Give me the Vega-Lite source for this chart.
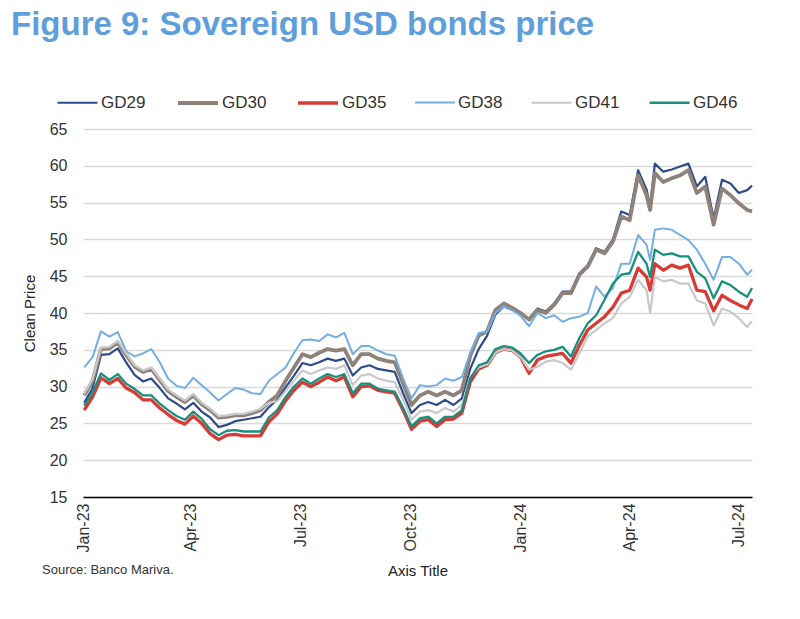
{
  "$schema": "https://vega.github.io/schema/vega-lite/v6.json",
  "width": 669,
  "height": 368,
  "autosize": "none",
  "padding": {"left": 83, "top": 129, "right": 48, "bottom": 122},
  "background": "white",
  "config": {"font": "Liberation Sans", "view": {"stroke": null}},
  "title": {
    "text": "Figure 9: Sovereign USD bonds price",
    "fontSize": 33,
    "fontWeight": "bold",
    "color": "#5E9FDB",
    "anchor": "start",
    "frame": "group",
    "dx": -72,
    "offset": 39
  },
  "layer": [
    {
      "data": {
        "values": [
          {"d": "2023-01-02", "GD29": 27.8, "GD30": 28.8, "GD35": 26.8, "GD38": 32.6, "GD41": 29.0, "GD46": 27.4},
          {"d": "2023-01-09", "GD29": 29.8, "GD30": 30.8, "GD35": 28.6, "GD38": 34.0, "GD41": 31.0, "GD46": 29.2},
          {"d": "2023-01-16", "GD29": 34.3, "GD30": 35.1, "GD35": 31.2, "GD38": 37.5, "GD41": 35.3, "GD46": 31.8},
          {"d": "2023-01-23", "GD29": 34.4, "GD30": 35.2, "GD35": 30.4, "GD38": 36.8, "GD41": 35.4, "GD46": 30.9},
          {"d": "2023-01-30", "GD29": 35.2, "GD30": 36.0, "GD35": 31.1, "GD38": 37.4, "GD41": 36.2, "GD46": 31.7},
          {"d": "2023-02-06", "GD29": 33.3, "GD30": 34.3, "GD35": 29.8, "GD38": 34.8, "GD41": 34.5, "GD46": 30.4},
          {"d": "2023-02-13", "GD29": 31.6, "GD30": 32.7, "GD35": 29.2, "GD38": 34.1, "GD41": 32.9, "GD46": 29.7},
          {"d": "2023-02-20", "GD29": 30.7, "GD30": 32.0, "GD35": 28.2, "GD38": 34.5, "GD41": 32.2, "GD46": 28.8},
          {"d": "2023-02-27", "GD29": 31.1, "GD30": 32.4, "GD35": 28.2, "GD38": 35.1, "GD41": 32.6, "GD46": 28.8},
          {"d": "2023-03-06", "GD29": 29.8, "GD30": 30.9, "GD35": 27.1, "GD38": 33.3, "GD41": 31.1, "GD46": 27.7},
          {"d": "2023-03-13", "GD29": 28.4, "GD30": 29.4, "GD35": 26.2, "GD38": 31.1, "GD41": 29.6, "GD46": 26.8},
          {"d": "2023-03-20", "GD29": 27.7, "GD30": 28.6, "GD35": 25.4, "GD38": 30.1, "GD41": 28.8, "GD46": 26.0},
          {"d": "2023-03-27", "GD29": 26.9, "GD30": 27.9, "GD35": 24.9, "GD38": 29.8, "GD41": 28.1, "GD46": 25.5},
          {"d": "2023-04-03", "GD29": 27.8, "GD30": 28.8, "GD35": 26.0, "GD38": 31.2, "GD41": 29.0, "GD46": 26.6},
          {"d": "2023-04-10", "GD29": 26.6, "GD30": 27.6, "GD35": 25.0, "GD38": 30.2, "GD41": 27.8, "GD46": 25.6},
          {"d": "2023-04-17", "GD29": 25.8, "GD30": 26.8, "GD35": 23.6, "GD38": 29.2, "GD41": 27.0, "GD46": 24.2},
          {"d": "2023-04-24", "GD29": 24.5, "GD30": 25.8, "GD35": 22.8, "GD38": 28.1, "GD41": 26.0, "GD46": 23.4},
          {"d": "2023-05-01", "GD29": 24.8, "GD30": 25.9, "GD35": 23.4, "GD38": 29.0, "GD41": 26.1, "GD46": 24.0},
          {"d": "2023-05-08", "GD29": 25.3, "GD30": 26.1, "GD35": 23.5, "GD38": 29.8, "GD41": 26.3, "GD46": 24.1},
          {"d": "2023-05-15", "GD29": 25.5, "GD30": 26.1, "GD35": 23.3, "GD38": 29.6, "GD41": 26.3, "GD46": 23.9},
          {"d": "2023-05-22", "GD29": 25.7, "GD30": 26.4, "GD35": 23.3, "GD38": 29.1, "GD41": 26.6, "GD46": 23.9},
          {"d": "2023-05-29", "GD29": 25.9, "GD30": 26.8, "GD35": 23.3, "GD38": 29.0, "GD41": 27.0, "GD46": 23.9},
          {"d": "2023-06-05", "GD29": 27.2, "GD30": 27.9, "GD35": 25.2, "GD38": 30.8, "GD41": 27.8, "GD46": 25.8},
          {"d": "2023-06-12", "GD29": 28.2, "GD30": 28.8, "GD35": 26.3, "GD38": 31.7, "GD41": 28.0, "GD46": 26.8},
          {"d": "2023-06-19", "GD29": 29.9, "GD30": 30.8, "GD35": 28.1, "GD38": 32.6, "GD41": 29.4, "GD46": 28.6},
          {"d": "2023-06-26", "GD29": 31.5, "GD30": 32.6, "GD35": 29.5, "GD38": 34.6, "GD41": 30.8, "GD46": 30.0},
          {"d": "2023-07-03", "GD29": 33.2, "GD30": 34.4, "GD35": 30.6, "GD38": 36.3, "GD41": 32.2, "GD46": 31.1},
          {"d": "2023-07-10", "GD29": 32.9, "GD30": 34.0, "GD35": 30.0, "GD38": 36.4, "GD41": 31.7, "GD46": 30.4},
          {"d": "2023-07-17", "GD29": 33.3, "GD30": 34.6, "GD35": 30.6, "GD38": 36.2, "GD41": 32.2, "GD46": 31.1},
          {"d": "2023-07-24", "GD29": 33.8, "GD30": 35.1, "GD35": 31.3, "GD38": 37.1, "GD41": 32.6, "GD46": 31.7},
          {"d": "2023-07-31", "GD29": 33.5, "GD30": 34.9, "GD35": 30.8, "GD38": 36.7, "GD41": 32.4, "GD46": 31.3},
          {"d": "2023-08-07", "GD29": 33.8, "GD30": 35.1, "GD35": 31.3, "GD38": 37.3, "GD41": 32.9, "GD46": 31.7},
          {"d": "2023-08-14", "GD29": 31.5, "GD30": 32.9, "GD35": 28.6, "GD38": 34.4, "GD41": 30.2, "GD46": 29.1},
          {"d": "2023-08-21", "GD29": 32.6, "GD30": 34.4, "GD35": 30.0, "GD38": 35.5, "GD41": 31.5, "GD46": 30.4},
          {"d": "2023-08-28", "GD29": 32.9, "GD30": 34.4, "GD35": 30.1, "GD38": 35.5, "GD41": 31.7, "GD46": 30.4},
          {"d": "2023-09-04", "GD29": 32.4, "GD30": 33.8, "GD35": 29.5, "GD38": 34.9, "GD41": 31.1, "GD46": 29.7},
          {"d": "2023-09-11", "GD29": 32.2, "GD30": 33.5, "GD35": 29.3, "GD38": 34.4, "GD41": 30.8, "GD46": 29.5},
          {"d": "2023-09-18", "GD29": 32.0, "GD30": 33.3, "GD35": 29.1, "GD38": 34.2, "GD41": 30.6, "GD46": 29.3},
          {"d": "2023-09-25", "GD29": 29.1, "GD30": 30.4, "GD35": 26.8, "GD38": 31.1, "GD41": 28.2, "GD46": 27.1},
          {"d": "2023-10-02", "GD29": 26.4, "GD30": 27.5, "GD35": 24.2, "GD38": 28.4, "GD41": 25.5, "GD46": 24.6},
          {"d": "2023-10-09", "GD29": 27.5, "GD30": 28.8, "GD35": 25.3, "GD38": 30.2, "GD41": 26.6, "GD46": 25.7},
          {"d": "2023-10-16", "GD29": 27.9, "GD30": 29.3, "GD35": 25.5, "GD38": 30.0, "GD41": 26.8, "GD46": 25.9},
          {"d": "2023-10-23", "GD29": 27.5, "GD30": 28.8, "GD35": 24.6, "GD38": 30.2, "GD41": 26.4, "GD46": 25.0},
          {"d": "2023-10-30", "GD29": 28.2, "GD30": 29.3, "GD35": 25.5, "GD38": 31.1, "GD41": 27.1, "GD46": 25.9},
          {"d": "2023-11-06", "GD29": 27.5, "GD30": 28.8, "GD35": 25.6, "GD38": 30.8, "GD41": 26.6, "GD46": 25.9},
          {"d": "2023-11-13", "GD29": 28.4, "GD30": 29.5, "GD35": 26.4, "GD38": 31.3, "GD41": 27.5, "GD46": 26.8},
          {"d": "2023-11-20", "GD29": 32.4, "GD30": 34.2, "GD35": 30.6, "GD38": 34.6, "GD41": 31.3, "GD46": 31.1},
          {"d": "2023-11-27", "GD29": 35.1, "GD30": 36.9, "GD35": 32.4, "GD38": 37.3, "GD41": 32.6, "GD46": 32.9},
          {"d": "2023-12-04", "GD29": 36.9, "GD30": 37.5, "GD35": 32.9, "GD38": 37.5, "GD41": 33.0, "GD46": 33.3},
          {"d": "2023-12-11", "GD29": 39.8, "GD30": 40.4, "GD35": 34.6, "GD38": 40.0, "GD41": 34.6, "GD46": 35.1},
          {"d": "2023-12-18", "GD29": 40.9, "GD30": 41.3, "GD35": 35.1, "GD38": 40.9, "GD41": 35.1, "GD46": 35.5},
          {"d": "2023-12-25", "GD29": 40.4, "GD30": 40.7, "GD35": 34.9, "GD38": 40.4, "GD41": 34.9, "GD46": 35.3},
          {"d": "2024-01-01", "GD29": 40.0, "GD30": 40.0, "GD35": 34.0, "GD38": 39.6, "GD41": 34.0, "GD46": 34.5},
          {"d": "2024-01-08", "GD29": 39.2, "GD30": 39.1, "GD35": 31.8, "GD38": 38.2, "GD41": 32.3, "GD46": 33.2},
          {"d": "2024-01-15", "GD29": 40.6, "GD30": 40.4, "GD35": 33.6, "GD38": 40.0, "GD41": 32.7, "GD46": 34.3},
          {"d": "2024-01-22", "GD29": 40.2, "GD30": 40.0, "GD35": 34.1, "GD38": 39.3, "GD41": 33.4, "GD46": 34.8},
          {"d": "2024-01-29", "GD29": 41.3, "GD30": 41.1, "GD35": 34.3, "GD38": 39.7, "GD41": 33.6, "GD46": 35.0},
          {"d": "2024-02-05", "GD29": 42.9, "GD30": 42.7, "GD35": 34.5, "GD38": 38.8, "GD41": 33.2, "GD46": 35.4},
          {"d": "2024-02-12", "GD29": 42.9, "GD30": 42.7, "GD35": 33.2, "GD38": 39.3, "GD41": 32.3, "GD46": 34.1},
          {"d": "2024-02-19", "GD29": 45.4, "GD30": 45.2, "GD35": 35.6, "GD38": 39.5, "GD41": 34.5, "GD46": 36.6},
          {"d": "2024-02-26", "GD29": 46.5, "GD30": 46.3, "GD35": 37.7, "GD38": 40.0, "GD41": 36.8, "GD46": 38.6},
          {"d": "2024-03-04", "GD29": 48.8, "GD30": 48.6, "GD35": 38.6, "GD38": 43.6, "GD41": 37.7, "GD46": 39.7},
          {"d": "2024-03-11", "GD29": 48.3, "GD30": 48.1, "GD35": 39.5, "GD38": 42.2, "GD41": 38.6, "GD46": 41.8},
          {"d": "2024-03-18", "GD29": 50.0, "GD30": 49.7, "GD35": 40.8, "GD38": 43.4, "GD41": 39.3, "GD46": 44.0},
          {"d": "2024-03-25", "GD29": 53.8, "GD30": 53.1, "GD35": 42.7, "GD38": 46.7, "GD41": 41.3, "GD46": 45.2},
          {"d": "2024-04-01", "GD29": 53.3, "GD30": 52.6, "GD35": 43.1, "GD38": 46.7, "GD41": 42.2, "GD46": 45.4},
          {"d": "2024-04-08", "GD29": 59.4, "GD30": 58.7, "GD35": 46.1, "GD38": 50.6, "GD41": 44.5, "GD46": 48.3},
          {"d": "2024-04-15", "GD29": 56.8, "GD30": 56.0, "GD35": 44.9, "GD38": 49.3, "GD41": 43.1, "GD46": 46.7},
          {"d": "2024-04-18", "GD29": 54.5, "GD30": 54.0, "GD35": 43.1, "GD38": 47.2, "GD41": 40.0, "GD46": 44.9},
          {"d": "2024-04-22", "GD29": 60.3, "GD30": 59.0, "GD35": 46.7, "GD38": 51.3, "GD41": 44.9, "GD46": 48.6},
          {"d": "2024-04-29", "GD29": 59.2, "GD30": 57.8, "GD35": 45.8, "GD38": 51.5, "GD41": 44.3, "GD46": 47.9},
          {"d": "2024-05-06", "GD29": 59.5, "GD30": 58.3, "GD35": 46.5, "GD38": 51.3, "GD41": 44.5, "GD46": 48.1},
          {"d": "2024-05-13", "GD29": 59.9, "GD30": 58.7, "GD35": 46.1, "GD38": 50.6, "GD41": 44.0, "GD46": 47.7},
          {"d": "2024-05-20", "GD29": 60.3, "GD30": 59.4, "GD35": 46.5, "GD38": 49.9, "GD41": 44.0, "GD46": 47.7},
          {"d": "2024-05-27", "GD29": 57.2, "GD30": 56.3, "GD35": 43.1, "GD38": 48.6, "GD41": 41.7, "GD46": 45.6},
          {"d": "2024-06-03", "GD29": 58.5, "GD30": 57.2, "GD35": 42.9, "GD38": 46.7, "GD41": 41.3, "GD46": 44.7},
          {"d": "2024-06-10", "GD29": 52.8, "GD30": 52.0, "GD35": 40.3, "GD38": 44.5, "GD41": 38.3, "GD46": 42.0},
          {"d": "2024-06-17", "GD29": 58.1, "GD30": 56.9, "GD35": 42.4, "GD38": 47.6, "GD41": 40.6, "GD46": 44.3},
          {"d": "2024-06-24", "GD29": 57.6, "GD30": 56.0, "GD35": 41.7, "GD38": 47.6, "GD41": 40.2, "GD46": 43.8},
          {"d": "2024-07-01", "GD29": 56.3, "GD30": 54.9, "GD35": 41.1, "GD38": 46.7, "GD41": 39.3, "GD46": 42.9},
          {"d": "2024-07-08", "GD29": 56.7, "GD30": 54.0, "GD35": 40.6, "GD38": 45.2, "GD41": 38.1, "GD46": 42.2},
          {"d": "2024-07-12", "GD29": 57.3, "GD30": 53.8, "GD35": 41.9, "GD38": 45.9, "GD41": 38.9, "GD46": 43.4}
        ]
      },
      "transform": [
        {"fold": ["GD29", "GD30", "GD35", "GD38", "GD41", "GD46"], "as": ["s", "v"]}
      ],
      "mark": {"type": "line", "strokeJoin": "round"},
      "encoding": {
        "x": {
          "field": "d",
          "type": "temporal",
          "scale": {
            "type": "utc",
            "domain": [
              {"year": 2023, "month": 1, "date": 1, "utc": true},
              {"year": 2024, "month": 7, "date": 12, "utc": true}
            ]
          },
          "axis": {
            "values": [
              {"year": 2023, "month": 1, "date": 1, "utc": true},
              {"year": 2023, "month": 4, "date": 1, "utc": true},
              {"year": 2023, "month": 7, "date": 1, "utc": true},
              {"year": 2023, "month": 10, "date": 1, "utc": true},
              {"year": 2024, "month": 1, "date": 1, "utc": true},
              {"year": 2024, "month": 4, "date": 1, "utc": true},
              {"year": 2024, "month": 7, "date": 1, "utc": true}
            ],
            "format": "%b-%y",
            "labelAngle": -90,
            "labelFontSize": 16,
            "labelColor": "#333333",
            "labelPadding": 6,
            "labelFlush": false,
            "labelOverlap": false,
            "ticks": false,
            "grid": false,
            "domainColor": "#000000",
            "domainWidth": 1.5,
            "title": "Axis Title",
            "titleFontSize": 15,
            "titleFontWeight": "normal",
            "titleColor": "#222222",
            "titlePadding": 12
          }
        },
        "y": {
          "field": "v",
          "type": "quantitative",
          "scale": {"domain": [15, 65], "nice": false, "zero": false},
          "axis": {
            "values": [15, 20, 25, 30, 35, 40, 45, 50, 55, 60, 65],
            "grid": true,
            "gridColor": "#d9d9d9",
            "gridWidth": 1.3,
            "domain": false,
            "ticks": false,
            "labelFontSize": 16,
            "labelColor": "#333333",
            "labelPadding": 16,
            "title": "Clean Price",
            "titleFontSize": 15,
            "titleFontWeight": "normal",
            "titleColor": "#222222",
            "titlePadding": 12
          }
        },
        "color": {
          "field": "s",
          "type": "nominal",
          "scale": {
            "domain": ["GD29", "GD30", "GD35", "GD38", "GD41", "GD46"],
            "range": ["#2E4A8C", "#8E8279", "#D83B35", "#74AEE3", "#C9C9C9", "#17907E"]
          },
          "legend": {
            "orient": "none",
            "legendX": -27,
            "legendY": -48,
            "direction": "horizontal",
            "title": null,
            "symbolType": "stroke",
            "symbolSize": 1600,
            "labelFontSize": 17,
            "labelColor": "#333333",
            "labelOffset": 2,
            "columnPadding": 24
          }
        },
        "strokeWidth": {
          "field": "s",
          "type": "nominal",
          "scale": {
            "type": "ordinal",
            "domain": ["GD29", "GD30", "GD35", "GD38", "GD41", "GD46"],
            "range": [2.2, 3.8, 3.3, 2, 2.2, 2.3]
          },
          "legend": {
            "orient": "none",
            "legendX": -27,
            "legendY": -48,
            "direction": "horizontal",
            "title": null,
            "symbolType": "stroke",
            "symbolSize": 1600,
            "labelFontSize": 17,
            "labelColor": "#333333",
            "labelOffset": 2,
            "columnPadding": 24
          }
        }
      }
    },
    {
      "data": {"values": [{"t": "Source: Banco Mariva."}]},
      "mark": {
        "type": "text",
        "x": -41,
        "y": 441,
        "align": "left",
        "baseline": "middle",
        "fontSize": 13,
        "color": "#333333"
      },
      "encoding": {"text": {"field": "t", "type": "nominal"}}
    }
  ]
}
